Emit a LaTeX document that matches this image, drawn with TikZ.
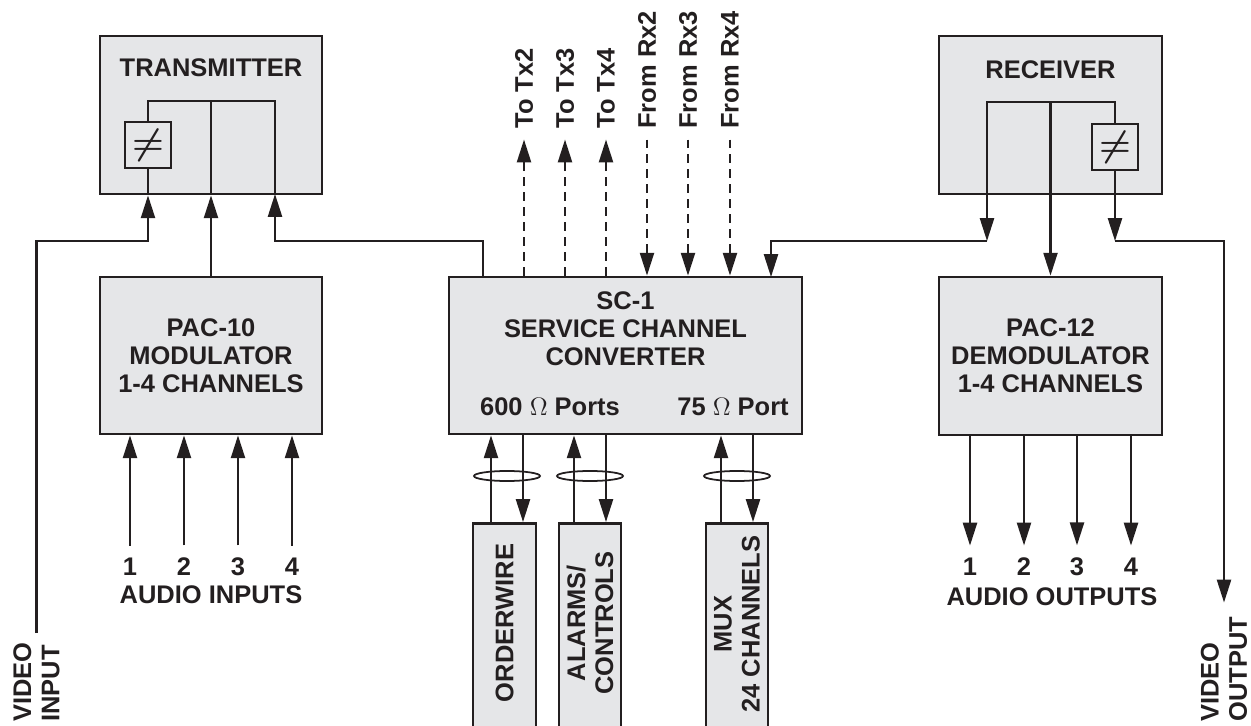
\documentclass[tikz,border=0pt]{standalone}
\usepackage{fontspec}
\setmainfont{Liberation Sans}
\usetikzlibrary{arrows.meta}
\definecolor{boxfill}{RGB}{229,230,232}
\definecolor{ink}{RGB}{35,31,32}
\tikzset{
  blk/.style={draw=ink, line width=1.6pt, fill=boxfill, inner sep=0pt, align=center, text=ink,
    font=\bfseries\fontsize{14.5}{16}\selectfont},
  lbl/.style={inner sep=0pt, align=center, text=ink, font=\bfseries\fontsize{14.5}{16}\selectfont},
  vlbl/.style={lbl, rotate=90, anchor=west, align=left},
  numlbl/.style={lbl, inner ysep=7pt},
  neqbox/.style={draw=ink, line width=1.3pt, fill=boxfill, minimum size=0.92cm, inner sep=0pt, text=ink,
    font=\huge\boldmath},
  wire/.style={draw=ink, line width=1.2pt},
  arr/.style={wire, -{Triangle[length=13pt,width=8pt]}},
  darr/.style={arr, dash pattern=on 5pt off 3.5pt},
}
\begin{document}
\begin{tikzpicture}[x=0.02cm, y=-0.02cm]
  \useasboundingbox (0,0) rectangle (1251,726);
  \clip (0,0) rectangle (1251,726);

  % Blocks
  \node[blk, minimum width=4.44cm, minimum height=3.16cm] (tx) at (211,115) {};
  \node[lbl] (txname) at (211,68) {TRANSMITTER};
  \node[neqbox] (txneq) at (148,145) {$\neq$};
  \node[blk, minimum width=4.46cm, minimum height=3.16cm] (rx) at (1050.5,115) {};
  \node[lbl] (rxname) at (1050.5,70) {RECEIVER};
  \node[neqbox] (rxneq) at (1115,147) {$\neq$};

  \node[blk, minimum width=4.44cm, minimum height=3.14cm] (pac10) at (211,355.5) {PAC-10\\MODULATOR\\1-4 CHANNELS};
  \node[blk, minimum width=7.06cm, minimum height=3.14cm] (sc1) at (625.5,355.5) {};
  \node[lbl] (sc1name) at (625.5,329) {SC-1\\SERVICE CHANNEL\\CONVERTER};
  \node[lbl] (p600) at (550,407) {600 $\Omega$ Ports};
  \node[lbl] (p75) at (733,407) {75 $\Omega$ Port};
  \node[blk, minimum width=4.46cm, minimum height=3.16cm] (pac12) at (1050.5,356) {PAC-12\\DEMODULATOR\\1-4 CHANNELS};

  % Bottom blocks (run off the page)
  \node[blk, minimum width=1.26cm, minimum height=4.4cm, anchor=north] (ow) at (504.5,522) {};
  \node[vlbl, anchor=center] (owname) at (504.5,623) {ORDERWIRE};
  \node[blk, minimum width=1.24cm, minimum height=4.4cm, anchor=north] (al) at (590,522) {};
  \node[vlbl, anchor=center, align=center] (alname) at (590,623) {ALARMS/\\CONTROLS};
  \node[blk, minimum width=1.24cm, minimum height=4.4cm, anchor=north] (mux) at (737,522) {};
  \node[vlbl, anchor=center, align=center] (muxname) at (737,624) {MUX\\24 CHANNELS};

  % Transmitter wiring
  \coordinate (txtop) at (211,101);
  \coordinate (txc) at (275,194);
  \coordinate (feed) at (0,241);
  \draw[wire] (txneq.north) |- (txtop) -| (txc);
  \draw[wire] (txtop) -- (tx.south);
  \draw[wire] (txneq.south) -- (txneq |- tx.south);

  % Video input
  \node[vlbl] (vin) at (36.5,722) {VIDEO\\INPUT};
  \draw[arr] ([yshift=5pt]vin.east) |- (txneq |- feed) -- (txneq |- tx.south);
  \draw[arr] (pac10.north) -- (tx.south);
  \coordinate (scout) at (483,277);
  \draw[arr] (scout) |- (txc |- feed) -- (txc);

  % Receiver wiring
  \coordinate (rxtop) at (1050.5,102);
  \coordinate (rxa) at (987,194);
  \coordinate (scin) at (771,277);
  \draw[arr] (rxneq.north) |- (rxtop) -| (rxa |- feed);
  \draw[arr] (rxtop) -- (pac12.north);
  \draw[arr] (rxa |- feed) -| (scin);
  \draw[arr] (rxneq.south) -- (rxneq |- feed);

  % Video output
  \node[vlbl] (vout) at (1224,722) {VIDEO\\OUTPUT};
  \draw[arr] (rxneq |- feed) -| ([yshift=8pt]vout.east);

  % Links to other Tx / from other Rx
  \foreach \n/\x in {2/524,3/565,4/606}{
    \node[vlbl] (ltx\n) at (\x,129) {To Tx\n};
    \draw[darr] (sc1.north -| ltx\n) -- ([yshift=-6pt]ltx\n.west);
  }
  \foreach \n/\x in {2/647,3/688,4/730}{
    \node[vlbl] (lrx\n) at (\x,129) {From Rx\n};
    \draw[darr] ([yshift=-6pt]lrx\n.west) -- (sc1.north -| lrx\n);
  }

  % Port pairs
  \foreach \b/\u/\d in {ow/491/523,al/574/606,mux/721/753}{
    \coordinate (up) at (\u,0);
    \coordinate (dn) at (\d,0);
    \draw[arr] (\b.north -| up) -- (sc1.south -| up);
    \draw[arr] (sc1.south -| dn) -- (\b.north -| dn);
    \coordinate (ring) at ({(\u+\d)/2},476);
    \draw[draw=ink, line width=1pt] (ring) ellipse [x radius=0.66cm, y radius=0.1cm];
  }

  % Audio
  \foreach \i/\x in {1/130,2/184,3/238,4/292}{
    \node[numlbl] (ain\i) at (\x,567) {\i};
    \draw[arr] (ain\i.north) -- (pac10.south -| ain\i);
  }
  \node[lbl] (ainname) at (211,595) {AUDIO INPUTS};
  \foreach \i/\x in {1/970,2/1024,3/1077,4/1131}{
    \node[numlbl] (aout\i) at (\x,567) {\i};
    \draw[arr] (pac12.south -| aout\i) -- (aout\i.north);
  }
  \node[lbl] (aoutname) at (1052,597) {AUDIO OUTPUTS};
\end{tikzpicture}
\end{document}
